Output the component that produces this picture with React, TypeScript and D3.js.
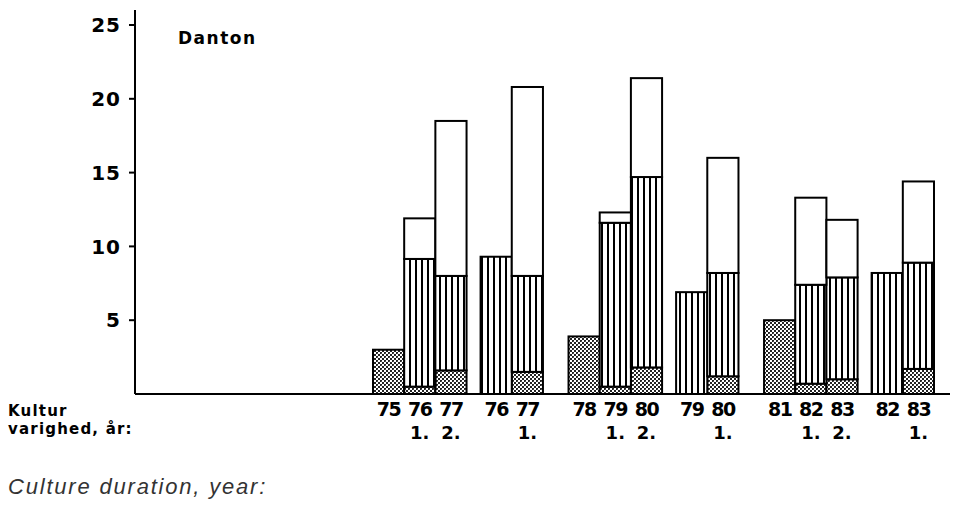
import React from 'react';
import * as d3 from 'd3';

// bars in display order (6 groups)
const years = ['75', '76', '77', '76', '77', '78', '79', '80', '79', '80', '81', '82', '83', '82', '83'];
const groups = [0, 0, 0, 1, 1, 2, 2, 2, 3, 3, 4, 4, 4, 5, 5];
const durations = ['', '1.', '2.', '', '1.', '', '1.', '2.', '', '1.', '', '1.', '2.', '', '1.'];
// segment heights, bottom to top
const crossValues = [3.0, 0.5, 1.6, 0, 1.5, 3.9, 0.5, 1.8, 0, 1.2, 5.0, 0.7, 1.0, 0, 1.7];
const stripeValues = [0, 8.65, 6.4, 9.3, 6.5, 0, 11.1, 12.9, 6.9, 7.0, 0, 6.7, 6.9, 8.2, 7.2];
const whiteValues = [0, 2.75, 10.5, 0, 12.8, 0, 0.7, 6.7, 0, 7.8, 0, 5.9, 3.9, 0, 5.5];
const yTicks = [5, 10, 15, 20, 25];

const W = 959;
const H = 511;
const axisX = 135;
const baseY = 394;
const smallGap = 0.45;
const bigGap = 0.82;

export default function App() {
  // slot offsets: bars touch inside a group, gaps between groups
  const offsets: number[] = [];
  let pos = 0;
  years.forEach((_, i) => {
    if (i > 0 && groups[i] !== groups[i - 1]) {
      pos += groups[i] % 2 === 1 ? smallGap : bigGap;
    }
    offsets.push(pos);
    pos += 1;
  });

  const x = d3.scaleLinear().domain([0, pos]).range([373, 934]);
  const y = d3.scaleLinear().domain([0, 25]).range([baseY, 25]);
  const bw = x(1) - x(0);

  const rows = years.map((yr, i) => ({ i, cross: crossValues[i], stripe: stripeValues[i], white: whiteValues[i] }));
  const stack = d3.stack<any>().keys(['cross', 'stripe', 'white'])(rows);
  const fills: Record<string, string> = { cross: 'url(#cross)', stripe: 'url(#stripes)', white: '#fff' };

  const bold = '"DejaVu Sans", sans-serif';

  return (
    <svg width={W} height={H} style={{ position: 'absolute', left: 0, top: 0, background: '#fff' }}>
      <defs>
        <pattern id="stripes" patternUnits="userSpaceOnUse" width={6} height={10}>
          <rect width={6} height={10} fill="#fff" />
          <rect x={1} width={2} height={10} fill="#000" />
        </pattern>
        <pattern id="cross" patternUnits="userSpaceOnUse" width={4} height={4}>
          <rect width={4} height={4} fill="#fff" />
          <rect width={2} height={2} fill="#222" />
          <rect x={2} y={2} width={2} height={2} fill="#222" />
          <rect x={1} y={1} width={1} height={1} fill="#555" />
        </pattern>
      </defs>

      {/* bars */}
      {stack.map(layer =>
        layer.map((d, i) => {
          const v = d[1] - d[0];
          if (v <= 0) return null;
          const x0 = x(offsets[i]);
          return (
            <rect
              key={layer.key + i}
              x={x0}
              y={y(d[1])}
              width={bw}
              height={y(d[0]) - y(d[1])}
              fill={fills[layer.key]}
              stroke="#000"
              strokeWidth={2}
            />
          );
        })
      )}

      {/* axes */}
      <line x1={axisX} x2={axisX} y1={10} y2={baseY} stroke="#000" strokeWidth={2} />
      <line x1={axisX} x2={950} y1={baseY} y2={baseY} stroke="#000" strokeWidth={2} />
      {yTicks.map(t => (
        <g key={t}>
          <line x1={axisX - 6} x2={axisX} y1={y(t)} y2={y(t)} stroke="#000" strokeWidth={2} />
          <text
            x={axisX - 14}
            y={y(t)}
            dy="0.36em"
            textAnchor="end"
            fontFamily={bold}
            fontWeight="bold"
            fontSize={20}
            letterSpacing={1}
          >
            {t}
          </text>
        </g>
      ))}

      <text x={178} y={44} fontFamily={bold} fontWeight="bold" fontSize={17} letterSpacing={1.5}>
        Danton
      </text>

      {/* year labels */}
      {years.map((yr, i) => (
        <text
          key={'yr' + i}
          x={x(offsets[i]) + bw / 2}
          y={416}
          textAnchor="middle"
          fontFamily={bold}
          fontWeight="bold"
          fontSize={19}
          letterSpacing={-1.5}
        >
          {yr}
        </text>
      ))}

      {/* duration labels */}
      {durations.map((d, i) =>
        d ? (
          <text
            key={'du' + i}
            x={x(offsets[i]) + bw / 2}
            y={439}
            textAnchor="middle"
            fontFamily={bold}
            fontWeight="bold"
            fontSize={18}
          >
            {d}
          </text>
        ) : null
      )}

      <text x={8} y={416} fontFamily={bold} fontWeight="bold" fontSize={15} letterSpacing={1.2}>
        Kultur
      </text>
      <text x={8} y={434} fontFamily={bold} fontWeight="bold" fontSize={15} letterSpacing={1.2}>
        varighed, år:
      </text>
      <text
        x={8}
        y={494}
        fontFamily='"Liberation Sans", Arial, sans-serif'
        fontStyle="italic"
        fontSize={22}
        letterSpacing={1.8}
        fill="#333"
      >
        Culture duration, year:
      </text>
    </svg>
  );
}
